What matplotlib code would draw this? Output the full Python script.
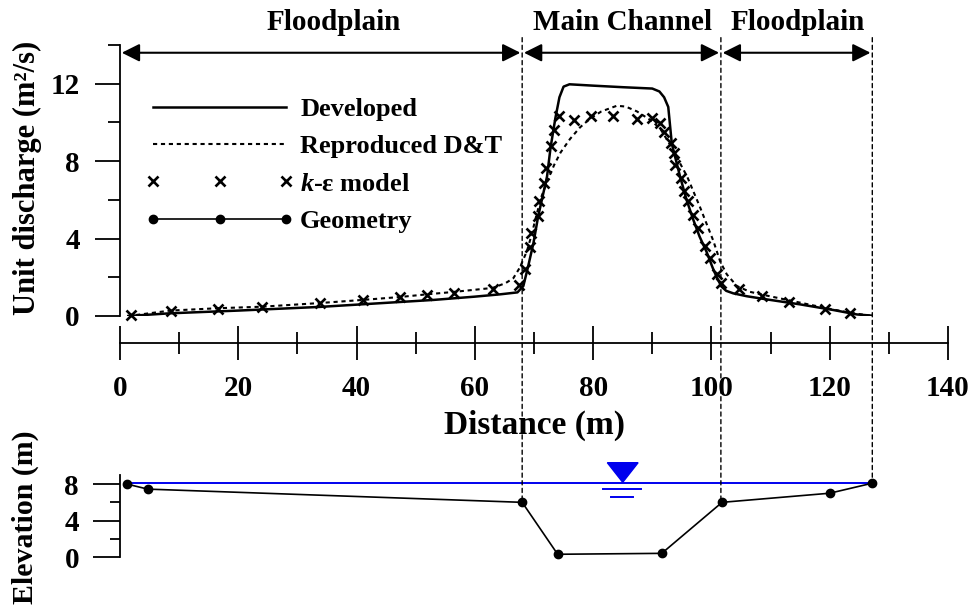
import matplotlib
matplotlib.use('Agg')
import matplotlib.pyplot as plt
from matplotlib.patches import ConnectionPatch, Polygon
from matplotlib.ticker import MultipleLocator

plt.rcParams['font.family'] = ['Liberation Serif', 'DejaVu Serif']
plt.rcParams['font.weight'] = 'bold'
plt.rcParams['mathtext.fontset'] = 'custom'
plt.rcParams['mathtext.it'] = 'Liberation Serif:bold:italic'
plt.rcParams['mathtext.rm'] = 'Liberation Serif:bold'
plt.rcParams['axes.linewidth'] = 1.3

# Developed model (solid)
dev_x = [1.4, 8.5, 20, 33.8, 45, 53, 60, 64.3, 67.2, 68.2, 69.0, 69.9, 70.7, 71.4,
         72.2, 72.8, 73.6, 74.3, 75.0, 76.0, 80, 85, 90.0, 91.2, 92.0, 92.7, 93.3,
         94.7, 95.8, 96.9, 98.0, 99.2, 100.2, 100.9, 101.7, 102.5, 103.7, 106,
         109.3, 115.0, 120.6, 124.6, 127.1]
dev_y = [0.0, 0.14, 0.28, 0.47, 0.68, 0.83, 1.0, 1.12, 1.22, 1.55, 2.55, 3.76, 5.14, 6.1,
         7.2, 8.7, 10.2, 11.3, 11.85, 11.97, 11.9, 11.82, 11.75, 11.6, 11.3, 10.8, 8.9,
         7.2, 6.0, 5.0, 4.1, 3.3, 2.5, 2.0, 1.52, 1.3, 1.17, 1.02,
         0.86, 0.60, 0.31, 0.08, 0.02]

# Reproduced D&T (dashed)
dt_x = [1.4, 8.5, 16.4, 24, 33.8, 41, 47.3, 51.9, 56.3, 63, 65.2, 66.5, 67.6, 68.8,
        69.6, 70.4, 71.3, 72.3, 73.4, 74.5, 76.1, 77.8, 79.5, 81.4, 84.0, 85.5, 87.4,
        89.6, 91.3, 93.1, 95.9, 98.1, 100.3, 101.5, 102.6, 104.3, 106.5, 108.8,
        113.3, 119.5, 123.4, 126.8]
dt_y = [0.0, 0.28, 0.4, 0.48, 0.67, 0.83, 0.98, 1.12, 1.24, 1.45, 1.7, 1.95, 2.5, 3.35,
        4.2, 5.2, 6.2, 7.0, 7.8, 8.45, 9.15, 9.75, 10.2, 10.57, 10.86, 10.82, 10.57,
        10.14, 9.7, 8.8, 7.2, 5.6, 3.9, 2.8, 2.15, 1.55, 1.25, 1.09,
        0.8, 0.40, 0.17, 0.02]

# k-epsilon model (markers)
ke_x = [1.8, 8.6, 16.5, 24.0, 33.9, 41.1, 47.3, 51.9, 56.5, 63.1, 67.5,
        68.5, 69.4, 69.5, 70.6, 70.8, 71.7, 72.1, 72.8, 73.4, 74.3, 76.8, 79.6,
        83.4, 87.4, 90.0, 91.3, 92.0, 93.1, 93.6, 93.8, 94.9, 95.3, 96.1, 96.9,
        97.8, 98.9, 99.8, 100.9, 101.7,
        104.7, 108.5, 113.2, 119.2, 123.4]
ke_y = [0.05, 0.27, 0.36, 0.48, 0.66, 0.83, 0.97, 1.09, 1.21, 1.40, 1.62,
        2.42, 3.59, 4.28, 5.17, 5.96, 6.86, 7.64, 8.76, 9.59, 10.31, 10.14, 10.35,
        10.35, 10.18, 10.23, 9.97, 9.50, 8.93, 8.40, 7.8, 7.15, 6.45, 5.95, 5.2,
        4.55, 3.6, 3.0, 2.15, 1.7,
        1.40, 1.03, 0.74, 0.35, 0.14]

# cross-section geometry
geom_x = [1.2, 4.7, 68.0, 74.0, 91.6, 101.8, 120.0, 127.2]
geom_y = [8.0, 7.45, 6.0, 0.3, 0.4, 6.0, 7.0, 8.1]
water_level = 8.15
water_x = [1.2, 127.2]

# zone boundaries and labels
bounds = [0.0, 68.0, 101.6, 127.2]
zone_labels = ['Floodplain', 'Main Channel', 'Floodplain']
zone_label_x = [36.2, 85.0, 114.6]

fig = plt.figure(figsize=(9.75, 6.07), dpi=100)
ax1 = fig.add_axes([120 / 975, 1 - 316 / 607, 828 / 975, 271 / 607])
ax2 = fig.add_axes([120 / 975, 1 - 557 / 607, 828 / 975, 82 / 607])

h_dev, = ax1.plot(dev_x, dev_y, color='black', lw=1.8, label='Developed')
h_dt, = ax1.plot(dt_x, dt_y, color='black', lw=1.5, ls=(0, (2, 1.8)), label='Reproduced D&T')
h_ke, = ax1.plot(ke_x, ke_y, ls='none', marker='x', color='black', ms=6.5, mew=1.9,
                 label='$k$-ε model', clip_on=False)

ax1.set_xlim(0, 140)
ax1.set_ylim(0, 14)
for s in ['top', 'right']:
    ax1.spines[s].set_visible(False)
ax1.spines['bottom'].set_position(('outward', 19.4))
ax1.xaxis.set_major_locator(MultipleLocator(20))
ax1.xaxis.set_minor_locator(MultipleLocator(10))
ax1.yaxis.set_major_locator(MultipleLocator(4))
ax1.yaxis.set_minor_locator(MultipleLocator(2))
ax1.tick_params(axis='x', which='major', direction='inout', length=24.5, width=1.3,
                labelsize=21, pad=11)
ax1.tick_params(axis='x', which='minor', direction='inout', length=15.8, width=1.3)
ax1.tick_params(axis='y', which='major', direction='out', length=18, width=1.3,
                labelsize=21, pad=11)
ax1.tick_params(axis='y', which='minor', direction='out', length=8.6, width=1.3)

# zone arrows and labels
arrow_y = 13.6
for i in range(3):
    x0 = bounds[i] + 0.3
    x1 = bounds[i + 1] - 0.3
    ax1.annotate('', xy=(x1, arrow_y), xytext=(x0, arrow_y),
                 arrowprops=dict(arrowstyle='<|-|>', mutation_scale=27, lw=1.5,
                                 color='black', shrinkA=0, shrinkB=0),
                 annotation_clip=False)
    ax1.text(zone_label_x[i], 14.75, zone_labels[i], ha='center', va='baseline',
             fontsize=21, fontweight='bold', clip_on=False)

# bottom panel: geometry
ax2.plot(water_x, [water_level, water_level], color='#0000ee', lw=1.4, zorder=2)
h_geo, = ax2.plot(geom_x, geom_y, color='black', lw=1.2, marker='o', ms=6,
                  label='Geometry', clip_on=False, zorder=3)
sym_x = 85.0
tri = Polygon([[sym_x - 2.6, water_level + 2.2], [sym_x + 2.6, water_level + 2.2],
               [sym_x, water_level + 0.05]], closed=True, color='#0000ee', clip_on=False)
ax2.add_patch(tri)
ax2.plot([sym_x - 3.3, sym_x + 3.1], [water_level - 0.7, water_level - 0.7],
         color='#0000ee', lw=1.4, clip_on=False)
ax2.plot([sym_x - 2.0, sym_x + 1.7], [water_level - 1.55, water_level - 1.55],
         color='#0000ee', lw=1.4, clip_on=False)

ax2.set_xlim(0, 140)
ax2.set_ylim(0, 9)
for s in ['top', 'right', 'bottom']:
    ax2.spines[s].set_visible(False)
ax2.set_xticks([])
ax2.yaxis.set_major_locator(MultipleLocator(4))
ax2.yaxis.set_minor_locator(MultipleLocator(2))
ax2.tick_params(axis='y', which='major', direction='out', length=19.5, width=1.3,
                labelsize=21, pad=10)
ax2.tick_params(axis='y', which='minor', direction='out', length=7, width=1.3)

# dashed zone separators spanning both panels
for xb, yb in [(68.0, 6.0), (101.6, 6.0), (127.2, 8.1)]:
    con = ConnectionPatch(xyA=(xb, 14.38), coordsA=ax1.transData,
                          xyB=(xb, yb), coordsB=ax2.transData,
                          color='black', lw=1.0, ls=(0, (3, 2.5)))
    fig.add_artist(con)

ax1.legend(handles=[h_dev, h_dt, h_ke, h_geo], loc='upper left',
           bbox_to_anchor=(25 / 828, 0.807), frameon=False, fontsize=19,
           numpoints=3, handlelength=5.65, handletextpad=0.23,
           labelspacing=0.53, borderpad=0, borderaxespad=0)

fig.text(27 / 975, 1 - 178 / 607, 'Unit discharge (m²/s)', rotation=90,
         ha='center', va='center', fontsize=22, fontweight='bold')
fig.text(25 / 975, 1 - 517 / 607, 'Elevation (m)', rotation=90,
         ha='center', va='center', fontsize=21.5, fontweight='bold')
fig.text(535 / 975, 1 - 425 / 607, 'Distance (m)', ha='center', va='center',
         fontsize=24, fontweight='bold')

fig.savefig('out.png', dpi=100)
